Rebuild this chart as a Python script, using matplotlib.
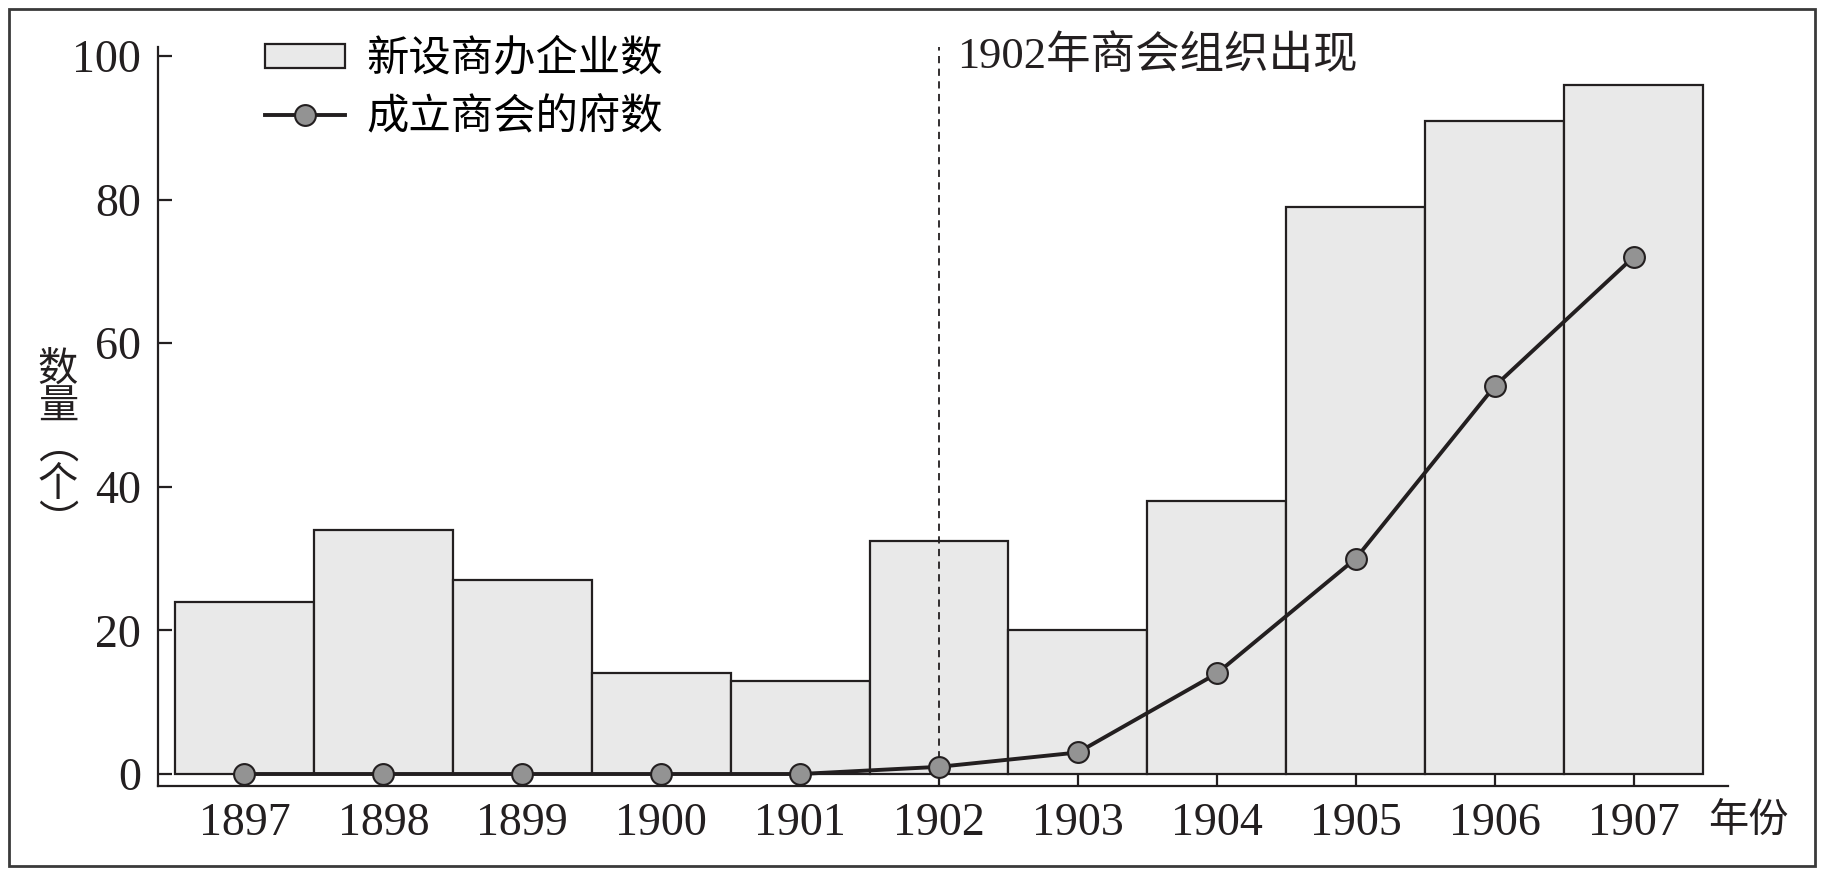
import matplotlib
matplotlib.use("Agg")
import matplotlib.pyplot as plt
from matplotlib.patches import Patch, Rectangle
from matplotlib.lines import Line2D

plt.rcParams['font.family'] = ['Liberation Serif', 'Noto Sans CJK SC']

# data
years = [1897, 1898, 1899, 1900, 1901, 1902, 1903, 1904, 1905, 1906, 1907]
new_firms = [24, 34, 27, 14, 13, 32.5, 20, 38, 79, 91, 96]      # 新设商办企业数
chamber_prefs = [0, 0, 0, 0, 0, 1, 3, 14, 30, 54, 72]             # 成立商会的府数
yticks = [0, 20, 40, 60, 80, 100]

ink = '#231f20'
bar_fill = '#e9e9e9'
dot_fill = '#939393'

fig = plt.figure(figsize=(18.26, 8.74), dpi=100)
ax = fig.add_axes([158/1826, 88/874, 1570/1826, 739/874])

x = list(range(len(years)))
ax.bar(x, new_firms, width=1.0, color=bar_fill, edgecolor=ink, linewidth=1.6, zorder=2)
ax.plot(x, chamber_prefs, color=ink, lw=2.8, marker='o', ms=15,
        mfc=dot_fill, mec=ink, mew=1.5, zorder=4, clip_on=False)

ax.set_xlim(-0.622, 10.68)
ax.set_ylim(-1.67, 101.25)

# 1902 marker line
i02 = years.index(1902)
ax.axvline(i02, ymin=0.02, ymax=1.0, color=ink, lw=1.3, ls=(0, (4, 3)), zorder=3)
ax.text(i02 + 0.13, 100, '1902年商会组织出现', fontsize=32, va='center', ha='left', color=ink)

ax.set_xticks(x)
ax.set_xticklabels([str(y) for y in years])
ax.set_yticks(yticks)
ax.tick_params(axis='both', direction='in', colors=ink, labelsize=33, width=1.6)
ax.tick_params(axis='y', length=10, pad=12)
ax.tick_params(axis='x', length=8, pad=12)
for s in ['top', 'right']:
    ax.spines[s].set_visible(False)
for s in ['left', 'bottom']:
    ax.spines[s].set_linewidth(1.6)
    ax.spines[s].set_color(ink)

# legend
handles = [Patch(facecolor=bar_fill, edgecolor=ink, linewidth=1.6),
           Line2D([], [], color=ink, lw=2.8, marker='o', ms=15, mfc=dot_fill, mec=ink, mew=1.5)]
fig.legend(handles, ['新设商办企业数', '成立商会的府数'], loc='upper left',
           bbox_to_anchor=(265/1826, 1 - 40/874), frameon=False, fontsize=30.5,
           handlelength=1.9, handleheight=0.5, handletextpad=0.5,
           labelspacing=0.42, borderpad=0, borderaxespad=0)

# axis captions
fig.text(58/1826, 1 - 448/874, '数\n量\n︵\n个\n︶', fontsize=29, ha='center', va='center',
         linespacing=1.05, color=ink)
fig.text(1748/1826, 1 - 822/874, '年份', fontsize=29, ha='center', va='center', color=ink)

# outer frame
fig.patches.append(Rectangle((9/1826, 8/874), 1806/1826, 857/874, transform=fig.transFigure,
                             fill=False, edgecolor='#3a3a3a', linewidth=2))

fig.savefig('out.png', dpi=100)
